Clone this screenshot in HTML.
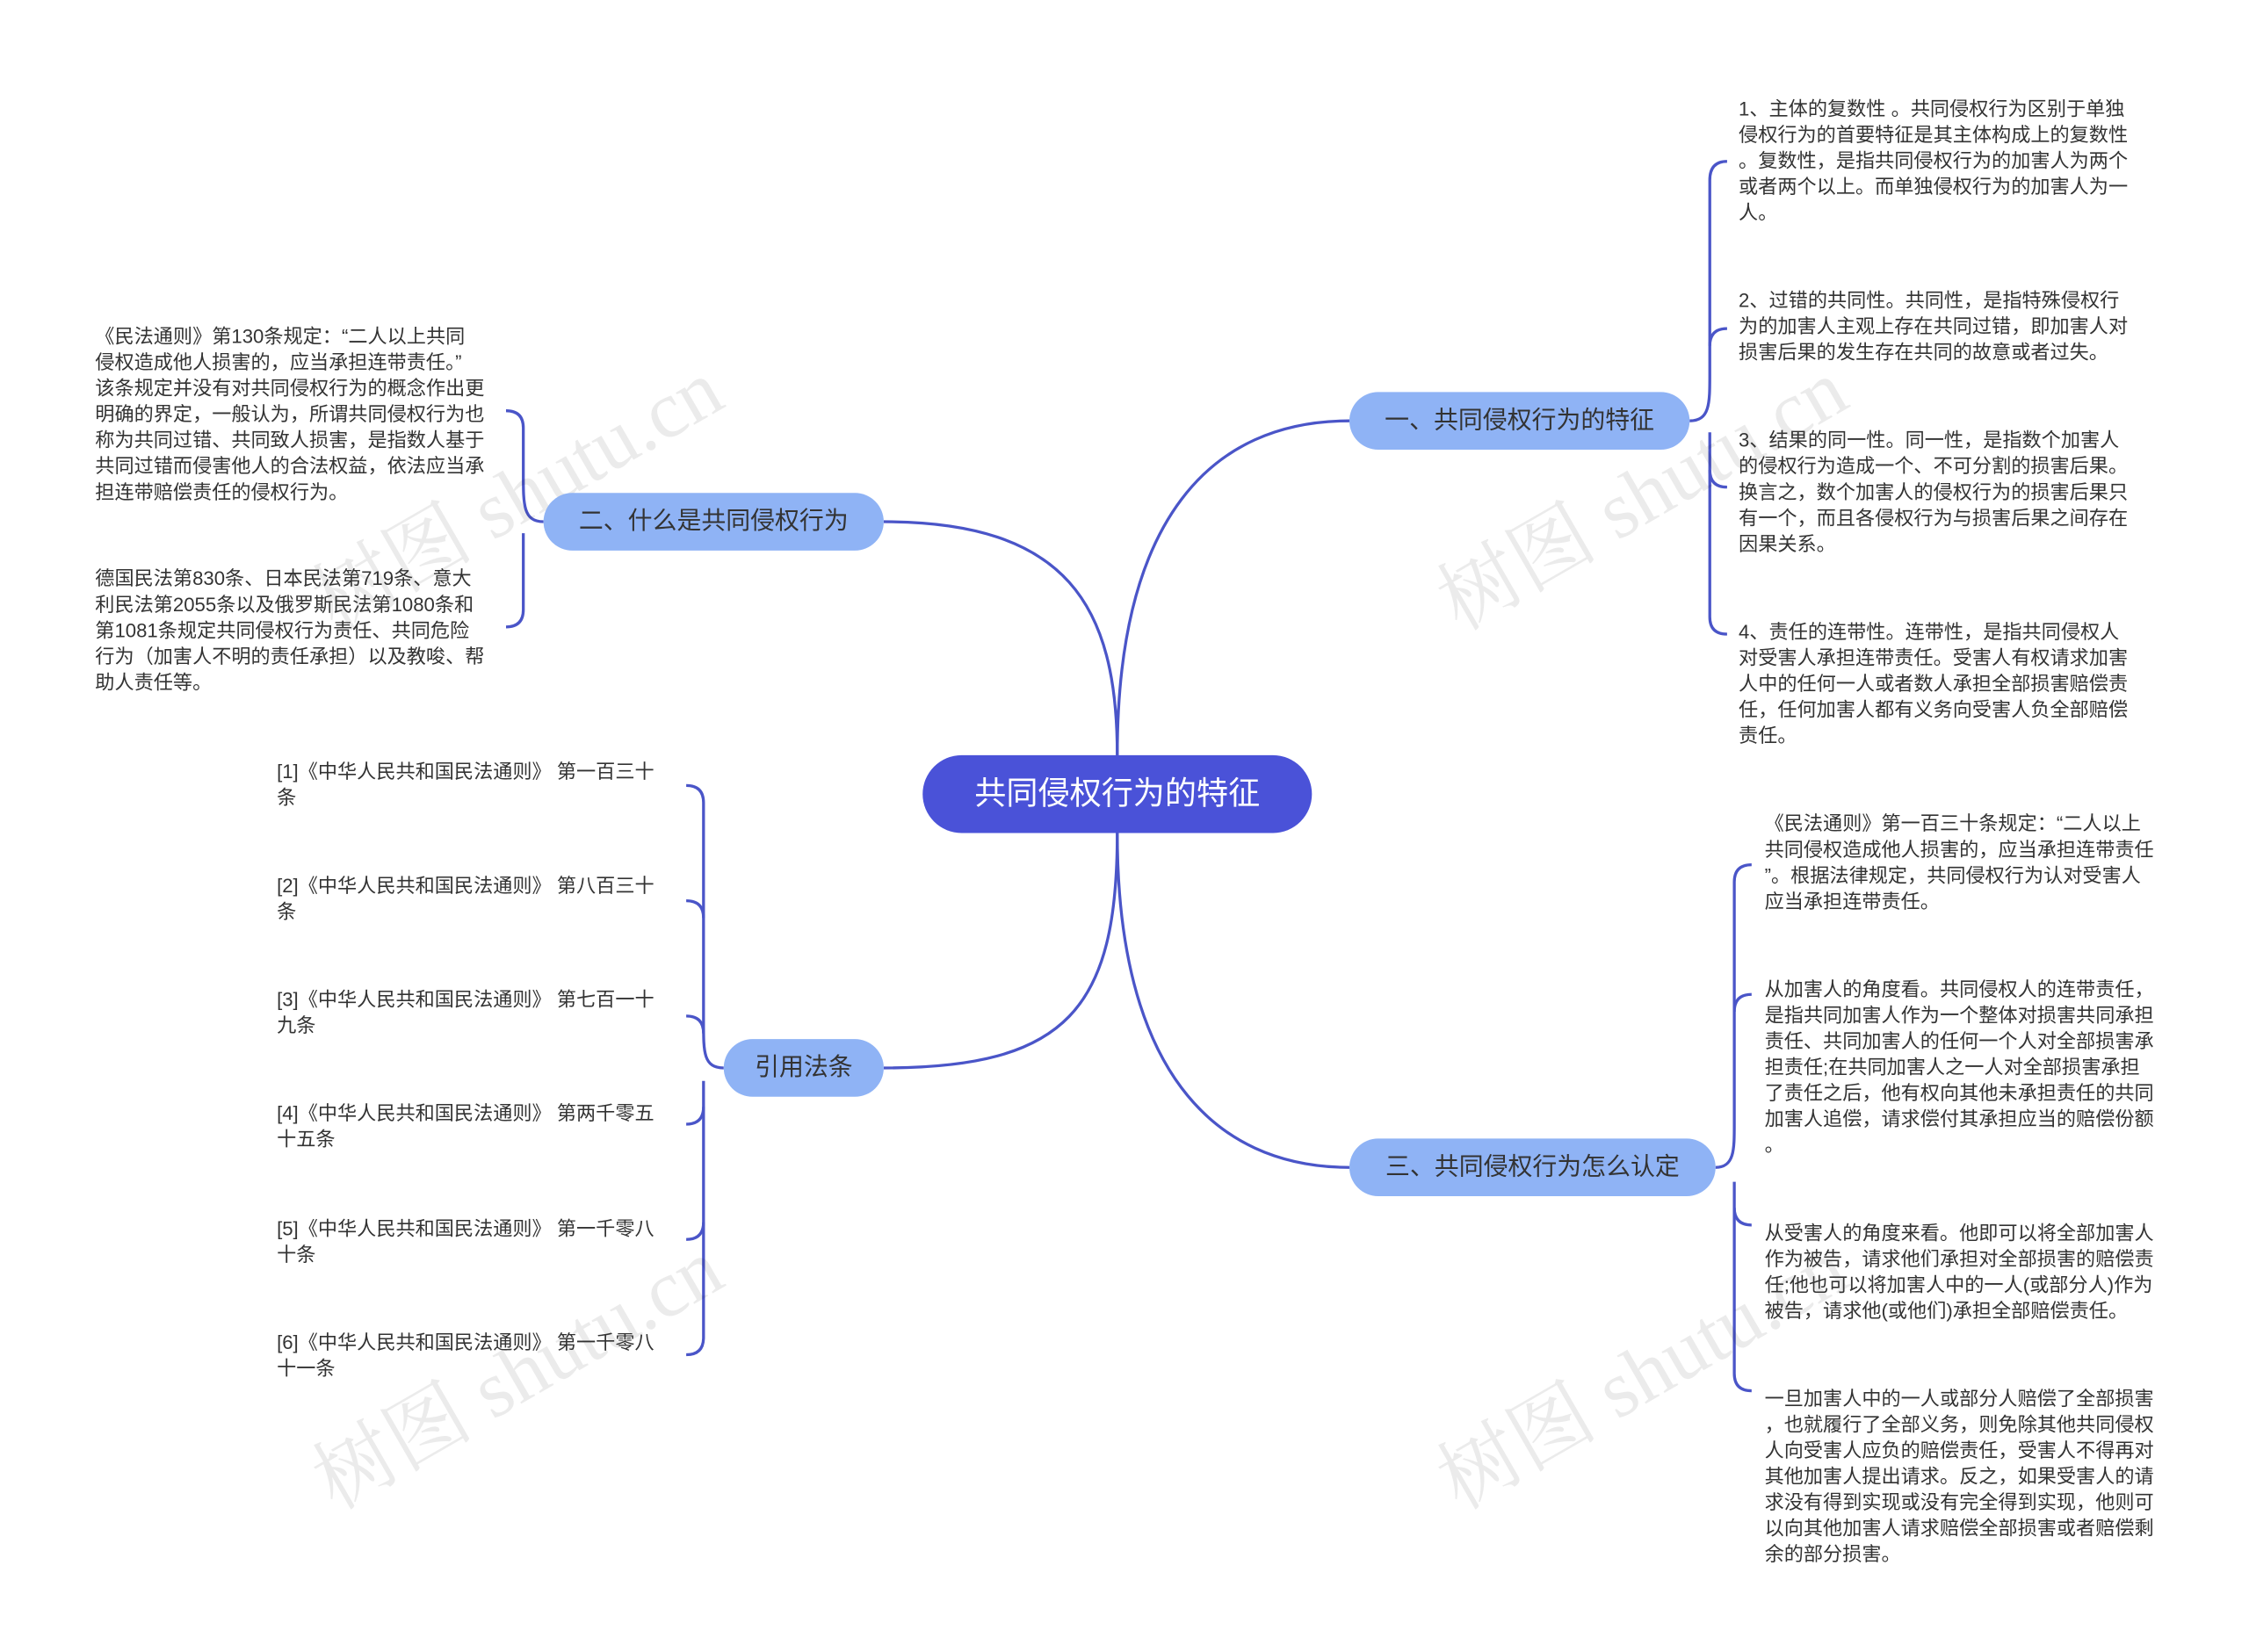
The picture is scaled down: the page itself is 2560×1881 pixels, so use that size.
<!DOCTYPE html>
<html><head><meta charset="utf-8">
<style>
html,body{margin:0;padding:0;background:#fff;}
body{width:2560px;height:1881px;overflow:hidden;position:relative;}
#s{position:absolute;left:0;top:0;width:1560px;height:1146px;transform:scale(1.641);transform-origin:0 0;font-family:"Liberation Sans","Noto Sans CJK SC",sans-serif;}
.leaf{position:absolute;font-size:13.5px;line-height:18px;color:#333;white-space:nowrap;}
.node{position:absolute;background:#8fb3f5;border-radius:20px;color:#333;font-size:17px;text-align:center;line-height:40px;height:40px;}
.center{position:absolute;left:640px;top:524px;width:270px;height:54px;background:#4a52d8;border-radius:27px;color:#fff;font-size:22px;line-height:54px;text-align:center;}
.wm{position:absolute;font-size:56px;color:rgba(0,0,0,0.08);transform:rotate(-30deg);white-space:nowrap;font-family:"Liberation Serif","Noto Serif CJK SC",serif;}
</style></head><body><div id="s">
<svg width="1560" height="1146" style="position:absolute;left:0;top:0" fill="none" stroke="#4a55c8" stroke-width="2">
<path d="M775 524 C775 360 840 292 936 292"/>
<path d="M775 524 C775 420 740 362 613 362"/>
<path d="M775 578 C775 700 740 741 613 741"/>
<path d="M775 578 C775 740 840 810 936 810"/>
<path d="M1172 292 C1186 292 1186 280 1186 260 L1186 125 Q1186 112 1198 112"/>
<path d="M1186 240 Q1186 228 1198 228"/>
<path d="M1186 300 L1186 326 Q1186 338 1198 338"/>
<path d="M1186 326 L1186 428 Q1186 440 1198 440"/>
<path d="M1190 810 C1203 810 1203 798 1203 780 L1203 612 Q1203 600 1215 600"/>
<path d="M1203 702 Q1203 690 1215 690"/>
<path d="M1203 820 L1203 953 Q1203 965 1215 965"/>
<path d="M1203 838 Q1203 850 1215 850"/>
<path d="M377 362 C363 362 363 350 363 330 L363 297 Q363 285 351 285"/>
<path d="M363 370 L363 423 Q363 435 351 435"/>
<path d="M502 741 C488 741 488 730 488 710 L488 557 Q488 545 476 545"/>
<path d="M488 637 Q488 625 476 625"/>
<path d="M488 717 Q488 705 476 705"/>
<path d="M488 750 L488 928 Q488 940 476 940"/>
<path d="M488 768 Q488 780 476 780"/>
<path d="M488 848 Q488 860 476 860"/>
</svg>
<div class="wm" style="left:200px;top:300px">树图 shutu.cn</div>
<div class="wm" style="left:980px;top:300px">树图 shutu.cn</div>
<div class="wm" style="left:200px;top:910px">树图 shutu.cn</div>
<div class="wm" style="left:980px;top:910px">树图 shutu.cn</div>
<div class="center">共同侵权行为的特征</div>
<div class="node" style="left:936px;top:272px;width:236px">一、共同侵权行为的特征</div>
<div class="node" style="left:936px;top:790px;width:254px">三、共同侵权行为怎么认定</div>
<div class="node" style="left:377px;top:342px;width:236px">二、什么是共同侵权行为</div>
<div class="node" style="left:502px;top:721px;width:111px">引用法条</div>

<div class="leaf" style="left:1206px;top:67px">1、主体的复数性 。共同侵权行为区别于单独<br>侵权行为的首要特征是其主体构成上的复数性<br>。复数性，是指共同侵权行为的加害人为两个<br>或者两个以上。而单独侵权行为的加害人为一<br>人。</div>
<div class="leaf" style="left:1206px;top:200px">2、过错的共同性。共同性，是指特殊侵权行<br>为的加害人主观上存在共同过错，即加害人对<br>损害后果的发生存在共同的故意或者过失。</div>
<div class="leaf" style="left:1206px;top:297px">3、结果的同一性。同一性，是指数个加害人<br>的侵权行为造成一个、不可分割的损害后果。<br>换言之，数个加害人的侵权行为的损害后果只<br>有一个，而且各侵权行为与损害后果之间存在<br>因果关系。</div>
<div class="leaf" style="left:1206px;top:430px">4、责任的连带性。连带性，是指共同侵权人<br>对受害人承担连带责任。受害人有权请求加害<br>人中的任何一人或者数人承担全部损害赔偿责<br>任，任何加害人都有义务向受害人负全部赔偿<br>责任。</div>

<div class="leaf" style="left:1224px;top:563px">《民法通则》第一百三十条规定：“二人以上<br>共同侵权造成他人损害的，应当承担连带责任<br>”。根据法律规定，共同侵权行为认对受害人<br>应当承担连带责任。</div>
<div class="leaf" style="left:1224px;top:678px">从加害人的角度看。共同侵权人的连带责任，<br>是指共同加害人作为一个整体对损害共同承担<br>责任、共同加害人的任何一个人对全部损害承<br>担责任;在共同加害人之一人对全部损害承担<br>了责任之后，他有权向其他未承担责任的共同<br>加害人追偿，请求偿付其承担应当的赔偿份额<br>。</div>
<div class="leaf" style="left:1224px;top:847px">从受害人的角度来看。他即可以将全部加害人<br>作为被告，请求他们承担对全部损害的赔偿责<br>任;他也可以将加害人中的一人(或部分人)作为<br>被告，请求他(或他们)承担全部赔偿责任。</div>
<div class="leaf" style="left:1224px;top:962px">一旦加害人中的一人或部分人赔偿了全部损害<br>，也就履行了全部义务，则免除其他共同侵权<br>人向受害人应负的赔偿责任，受害人不得再对<br>其他加害人提出请求。反之，如果受害人的请<br>求没有得到实现或没有完全得到实现，他则可<br>以向其他加害人请求赔偿全部损害或者赔偿剩<br>余的部分损害。</div>

<div class="leaf" style="left:66px;top:225px">《民法通则》第130条规定：“二人以上共同<br>侵权造成他人损害的，应当承担连带责任。”<br>该条规定并没有对共同侵权行为的概念作出更<br>明确的界定，一般认为，所谓共同侵权行为也<br>称为共同过错、共同致人损害，是指数人基于<br>共同过错而侵害他人的合法权益，依法应当承<br>担连带赔偿责任的侵权行为。</div>
<div class="leaf" style="left:66px;top:393px">德国民法第830条、日本民法第719条、意大<br>利民法第2055条以及俄罗斯民法第1080条和<br>第1081条规定共同侵权行为责任、共同危险<br>行为（加害人不明的责任承担）以及教唆、帮<br>助人责任等。</div>

<div class="leaf" style="left:192px;top:527px">[1]《中华人民共和国民法通则》 第一百三十<br>条</div>
<div class="leaf" style="left:192px;top:606px">[2]《中华人民共和国民法通则》 第八百三十<br>条</div>
<div class="leaf" style="left:192px;top:685px">[3]《中华人民共和国民法通则》 第七百一十<br>九条</div>
<div class="leaf" style="left:192px;top:764px">[4]《中华人民共和国民法通则》 第两千零五<br>十五条</div>
<div class="leaf" style="left:192px;top:844px">[5]《中华人民共和国民法通则》 第一千零八<br>十条</div>
<div class="leaf" style="left:192px;top:923px">[6]《中华人民共和国民法通则》 第一千零八<br>十一条</div>
</div></body></html>
